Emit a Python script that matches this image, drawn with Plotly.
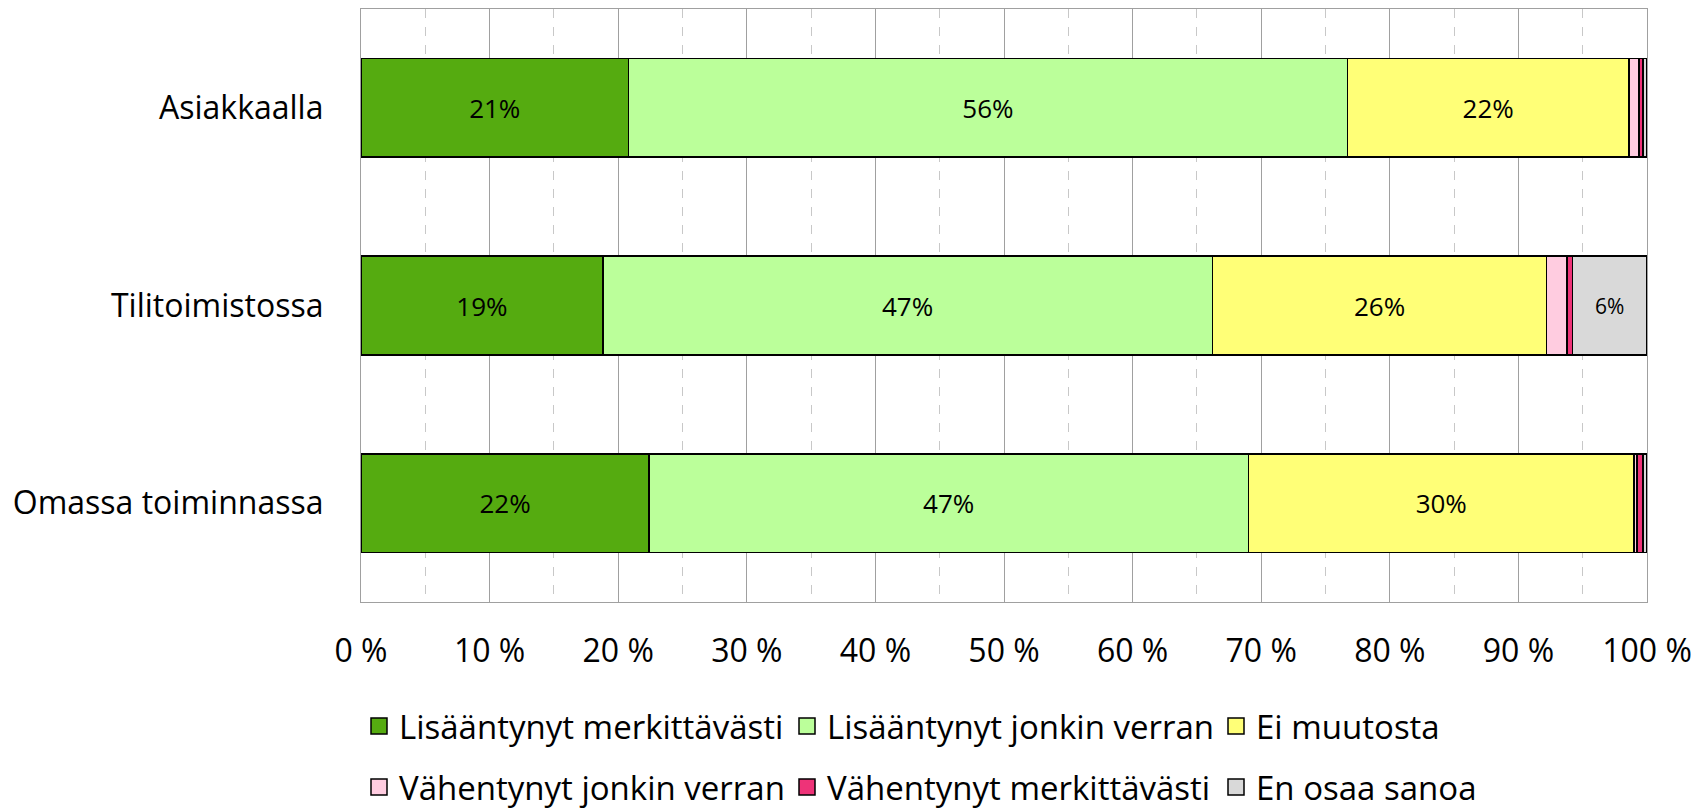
import plotly.graph_objects as go

categories = ["Asiakkaalla", "Tilitoimistossa", "Omassa toiminnassa"]
series_names = ["Lisääntynyt merkittävästi", "Lisääntynyt jonkin verran", "Ei muutosta",
                "Vähentynyt jonkin verran", "Vähentynyt merkittävästi", "En osaa sanoa"]
lisaantynyt_merkittavasti = [20.8, 18.8, 22.4]
lisaantynyt_jonkin_verran = [55.9, 47.4, 46.6]
ei_muutosta = [21.9, 26.0, 30.0]
vahentynyt_jonkin_verran = [0.8, 1.6, 0.2]
vahentynyt_merkittavasti = [0.3, 0.4, 0.5]
en_osaa_sanoa = [0.3, 5.8, 0.3]
tick_vals = [0, 10, 20, 30, 40, 50, 60, 70, 80, 90, 100]
tick_text = ["0 %", "10 %", "20 %", "30 %", "40 %", "50 %", "60 %", "70 %", "80 %", "90 %", "100 %"]

series_values = [lisaantynyt_merkittavasti, lisaantynyt_jonkin_verran, ei_muutosta,
                 vahentynyt_jonkin_verran, vahentynyt_merkittavasti, en_osaa_sanoa]
colors = ["#55AB10", "#BBFF9A", "#FFFF77", "#FFCCE0", "#EE3378", "#D9D9D9"]
label_sizes = [26, 26, 26, 26, 26, 21]

# figure size / plot area in pixels (page body adds an 8px offset)
W, H = 1693, 802
L, R, T, B = 353, 54, 1, 208
pw, ph = W - L - R, H - T - B
legend_cx = [371, 799, 1228, 371, 799, 1228]
legend_cy = [718, 718, 718, 779, 779, 779]

FONT = "Open Sans"
FS = 32
LFS = 33
fig = go.Figure()
for i, (name, vals) in enumerate(zip(series_names, series_values)):
    texts = [f"{round(v)}%" if v >= 3 else "" for v in vals]
    fig.add_trace(go.Bar(
        y=categories, x=vals, name=name, orientation="h",
        marker=dict(color=colors[i], line=dict(color="black", width=1.6)),
        text=texts, texttemplate="%{text}", textposition="inside",
        insidetextanchor="middle", textangle=0,
        textfont=dict(family=FONT, size=label_sizes[i], color="black"),
        constraintext="none", showlegend=False, hoverinfo="x+name",
    ))

legend_layouts = {}
for i, name in enumerate(series_names):
    key = "legend" if i == 0 else f"legend{i + 1}"
    fig.add_trace(go.Scatter(
        x=[None], y=[None], mode="markers", name=name,
        marker=dict(symbol="square", size=16, color=colors[i], line=dict(color="black", width=1.5)),
        legend=key, showlegend=True,
    ))
    legend_layouts[key] = dict(
        orientation="h", xref="paper", yref="paper",
        x=(legend_cx[i] - 20 - L) / pw, xanchor="left",
        y=(H - B - legend_cy[i]) / ph, yanchor="middle",
        font=dict(family=FONT, size=LFS, color="black"),
        bgcolor="rgba(0,0,0,0)", borderwidth=0,
    )

fig.update_layout(
    width=W, height=H,
    margin=dict(l=L, r=R, t=T, b=B, autoexpand=False),
    barmode="stack", bargap=0.5,
    plot_bgcolor="white", paper_bgcolor="white",
    font=dict(family=FONT, size=FS, color="black"),
    xaxis=dict(range=[0, 100], tickvals=tick_vals, ticktext=tick_text, tickangle=0,
               showgrid=True, gridcolor="#A0A0A0", gridwidth=1.3,
               minor=dict(dtick=5, showgrid=True, gridcolor="#C8C8C8", griddash="dash", gridwidth=1.3),
               showline=True, linecolor="#A0A0A0", linewidth=1.3, mirror=True,
               ticks="", ticklabelstandoff=20, zeroline=False,
               tickfont=dict(family=FONT, size=FS, color="black")),
    yaxis=dict(categoryorder="array", categoryarray=categories[::-1],
               showgrid=False, showline=True, linecolor="#A0A0A0", linewidth=1.3, mirror=True,
               ticks="", ticklabelstandoff=30, zeroline=False,
               tickfont=dict(family=FONT, size=FS, color="black")),
    **legend_layouts,
)
fig.write_html("out.html")
